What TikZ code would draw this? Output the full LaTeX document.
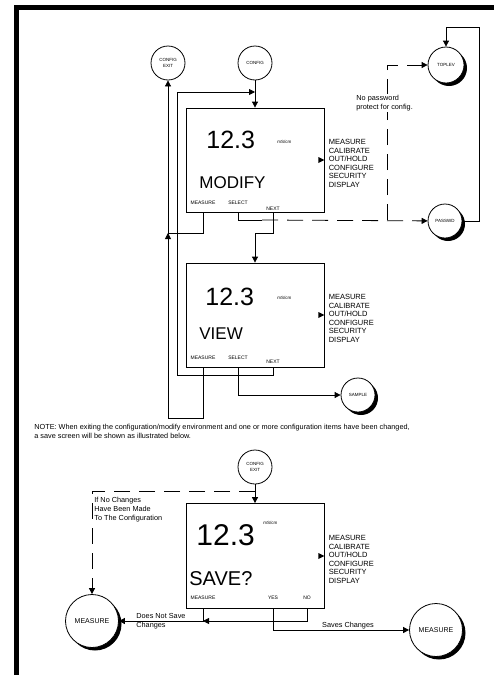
\documentclass[tikz,border=0pt]{standalone}
\usepackage{fontspec}
\setmainfont{Liberation Sans}
\usepackage{tikz}
\usetikzlibrary{shadows,positioning,arrows.meta}
\newcommand*{\displaymenu}[1]{% box name
		\fill ([xshift=-6pt,yshift=3pt]#1.east) -- (#1.east) -- ([xshift=-6pt,yshift=-3pt]#1.east) -- cycle;
		\node[menu,anchor=west] (#1-menu) at ([xshift=4pt,yshift=-3.5pt]#1.east)
			{MEASURE\\CALIBRATE\\OUT/HOLD\\CONFIGURE\\SECURITY\\DISPLAY};
}
\tikzset{state/.style={circle, draw=black, fill=white, minimum size=#1, inner sep=0pt, align=center, font=\fontsize{4.5}{6}\selectfont},
state/.default={34pt}}
\tikzset{shadowed/.style={drop shadow={shadow xshift=3pt, shadow yshift=-3pt, fill=black, opacity=1}}}
\tikzset{screen/.style={draw=black, fill=white, minimum width=138pt, minimum height=104pt, inner sep=0pt}}
\tikzset{menu/.style={align=left, inner sep=0pt, font=\fontsize{7.5}{8.5}\selectfont}}
\tikzset{btn/.style={anchor=base, inner sep=0pt, font=\fontsize{5}{6}\selectfont}}
\tikzset{reading/.style={anchor=base west, inner sep=0pt, font=\fontsize{#1}{#1}\selectfont},
reading/.default={25}}
\tikzset{unit/.style={anchor=base west, inner sep=0pt, font=\fontsize{4.5}{5}\selectfont}}
\tikzset{note/.style={align=left, inner sep=1pt, font=\fontsize{7.3}{9}\selectfont}}

\begin{document}
\begin{tikzpicture}[x=1pt,y=-1pt,line width=0.8pt,
		arr/.style={-{Triangle[length=6pt,width=6pt]}},
		dashline/.style={dash pattern=on 16pt off 9pt}]
	\useasboundingbox (0,0) rectangle (494,675);
	% frame
	\fill (14,5) rectangle (494,10);
	\fill (14,5) rectangle (19,675);
	% modify and view screens
	\node[state] (cfgexit) at (168,63) {CONFIG\\EXIT};
	\node[state] (cfg) at (255,63) {CONFIG};
	\node[state=36pt,shadowed] (toplev) at (446,65) {TOPLEV};
	\node[screen] (modify) at (255,160) {};
	\node[state,shadowed] (passwd) at (445,221) {PASSWD};
	\node[screen] (view) at (255,315) {};
	\node[state,shadowed] (sample) at (358,395) {SAMPLE};
	\node[reading] (modify-val) at (206,148) {12.3};
	\node[unit] (modify-unit) at (277,143) {mS/cm};
	\node[reading=17] (modify-word) at (199,188) {MODIFY};
	\node[btn] (modify-meas) at (203,204) {MEASURE};
	\node[btn] (modify-sel) at (238,204) {SELECT};
	\node[btn] (modify-next) at (273,210) {NEXT};
	\displaymenu{modify}
	\node[reading] (view-val) at (205,305) {12.3};
	\node[unit] (view-unit) at (277,299) {mS/cm};
	\node[reading=17] (view-word) at (199,339) {VIEW};
	\node[btn] (view-meas) at (203,359) {MEASURE};
	\node[btn] (view-sel) at (238,359) {SELECT};
	\node[btn] (view-next) at (273,363) {NEXT};
	\displaymenu{view}
	% connectors
	\coordinate (jexit) at (168,233);
	\coordinate (jview) at (255,233);
	\coordinate (jloop) at (177,375);
	\coordinate (jtop) at (255,92);
	\coordinate (jmeas) at (168,418);
	\coordinate (jsel) at (262,220);
	\coordinate (jpass) at (387,220);
	\coordinate (jtoplev) at (479,27);
	\draw[arr] (cfg) -- (modify);
	\draw (modify-meas |- modify.south) |- (jexit);
	\draw[arr] (jexit) -- (cfgexit);
	\draw[arr] (view-meas |- view.south) |- (jmeas) -- (jexit);
	\draw[arr] (modify-next |- modify.south) |- (jview) -- (view);
	\draw[arr] (view-next |- view.south) |- (jloop) |- (jtop);
	\draw (modify-sel |- modify.south) |- (jsel);
	\draw[arr,dashline] (jsel) -- (passwd);
	\draw[arr,dashline] (jpass) |- (toplev);
	\draw[arr] (passwd) -| (jtoplev) -| (toplev);
	\draw[arr] (view-sel |- view.south) |- (sample);
	\node[note,fill=white,anchor=west] (nopw) at (355,103) {No password\\protect for config.};
	% save screen
	\node[note,anchor=north west] (note) at (33,423) {NOTE: When exiting the configuration/modify environment and one or more configuration items have been changed,\\a save screen will be shown as illustrated below.};
	\node[state] (cfgexit2) at (255,467) {CONFIG\\EXIT};
	\node[screen,minimum height=105pt] (save) at (255,556) {};
	\node[state=53pt,shadowed,font=\fontsize{7}{8}\selectfont] (meas1) at (92,621) {MEASURE};
	\node[state=53pt,shadowed,font=\fontsize{7}{8}\selectfont] (meas2) at (436,630) {MEASURE};
	\node[reading=30] (save-val) at (196,545) {12.3};
	\node[unit] (save-unit) at (263,524) {mS/cm};
	\node[reading=20] (save-word) at (189,585) {SAVE?};
	\node[btn] (save-meas) at (203,599) {MEASURE};
	\node[btn] (save-yes) at (273,599) {YES};
	\node[btn] (save-no) at (307,599) {NO};
	\displaymenu{save}
	\coordinate (jsave) at (255,491);
	\draw[arr] (cfgexit2) -- (save);
	\draw[arr,dashline] (jsave) -| (meas1);
	\node[note,anchor=north west] (nochg) at (93,496) {If No Changes\\Have Been Made\\To The Configuration};
	\draw[arr] (save-meas |- save.south) |- (meas1);
	\draw[arr] (save-no |- save.south) |- (save-meas |- meas1);
	\draw[arr] (save-yes |- save.south) |- (meas2);
	\node[note,anchor=west] (nosave) at (135,621) {Does Not Save\\Changes};
	\node[note,anchor=base] (saves) at (348,627) {Saves Changes};
\end{tikzpicture}
\end{document}
